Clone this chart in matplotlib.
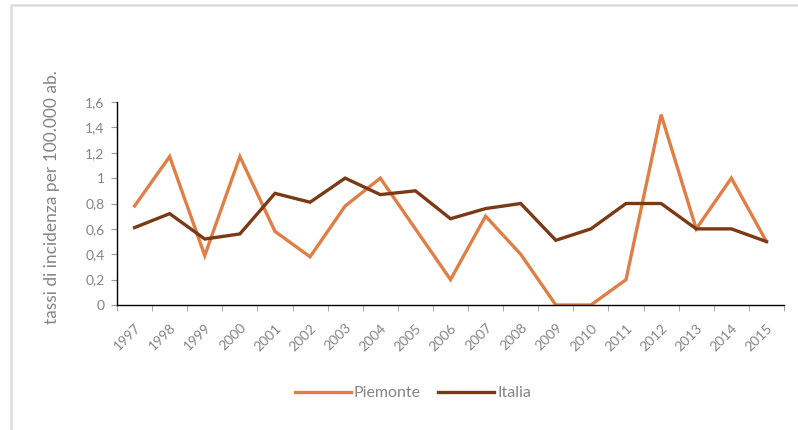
import matplotlib

matplotlib.use("Agg")

import matplotlib.pyplot as plt
import numpy as np
from matplotlib.lines import Line2D
from matplotlib.patches import Rectangle
from matplotlib.ticker import FixedLocator, FuncFormatter

years = [str(y) for y in range(1997, 2016)]
piemonte = [0.78, 1.17, 0.39, 1.17, 0.58, 0.38, 0.78, 1.0, 0.6, 0.2,
            0.7, 0.4, 0.0, 0.0, 0.2, 1.5, 0.6, 1.0, 0.5]
italia = [0.61, 0.72, 0.52, 0.56, 0.88, 0.81, 1.0, 0.87, 0.9, 0.68,
          0.76, 0.8, 0.51, 0.6, 0.8, 0.8, 0.6, 0.6, 0.5]
y_ticks = [0, 0.2, 0.4, 0.6, 0.8, 1.0, 1.2, 1.4, 1.6]

PIEMONTE_COLOR = "#E07F45"
ITALIA_COLOR = "#7A3A16"
TEXT_COLOR = "#858585"

plt.rcParams["font.family"] = ["Lato", "DejaVu Sans"]

fig = plt.figure(figsize=(7.98, 4.30), dpi=100)
fig.patches.append(Rectangle((11 / 798, -0.05), 1.2, 1 - 5 / 430 + 0.05,
                             transform=fig.transFigure, fill=False,
                             edgecolor="#dcdcdc", linewidth=1.8))

ax = fig.add_axes([117 / 798, 1 - 305 / 430, (784 - 117) / 798, (305 - 102) / 430])
x = np.arange(len(years))
ax.plot(x, piemonte, color=PIEMONTE_COLOR, linewidth=2.4, solid_joinstyle="miter")
ax.plot(x, italia, color=ITALIA_COLOR, linewidth=2.4, solid_joinstyle="miter")

ax.set_xlim(-0.5, len(years) - 0.5)
ax.set_ylim(0, 1.6)
ax.set_yticks(y_ticks)
ax.yaxis.set_major_formatter(FuncFormatter(lambda v, _: f"{v:g}".replace(".", ",")))
ax.set_xticks(x)
ax.set_xticklabels(years, rotation=45, ha="right", rotation_mode="anchor")
ax.xaxis.set_minor_locator(FixedLocator(np.arange(-0.5, len(years), 1.0)))
ax.tick_params(axis="x", which="major", length=0, pad=12, labelsize=10, labelcolor=TEXT_COLOR)
ax.tick_params(axis="x", which="minor", length=4, color="#999999")
ax.tick_params(axis="y", length=4, color="#999999", labelsize=10, labelcolor=TEXT_COLOR, pad=5)

for side in ("top", "right"):
    ax.spines[side].set_visible(False)
for side in ("left", "bottom"):
    ax.spines[side].set_linewidth(1.0)
    ax.spines[side].set_color("black")

fig.text(52 / 798, 1 - 197 / 430, "tassi di incidenza per 100.000 ab.", rotation=90,
         ha="center", va="center", fontsize=12.5, color=TEXT_COLOR)

handles = [Line2D([], [], color=PIEMONTE_COLOR, linewidth=2.4),
           Line2D([], [], color=ITALIA_COLOR, linewidth=2.4)]
fig.legend(handles, ["Piemonte", "Italia"], loc="center", bbox_to_anchor=(413 / 798, 1 - 393 / 430),
           ncol=2, frameon=False, fontsize=11.5, labelcolor=TEXT_COLOR,
           handlelength=3.5, handletextpad=0.2, columnspacing=1.1)

fig.savefig("out.png", dpi=100)
